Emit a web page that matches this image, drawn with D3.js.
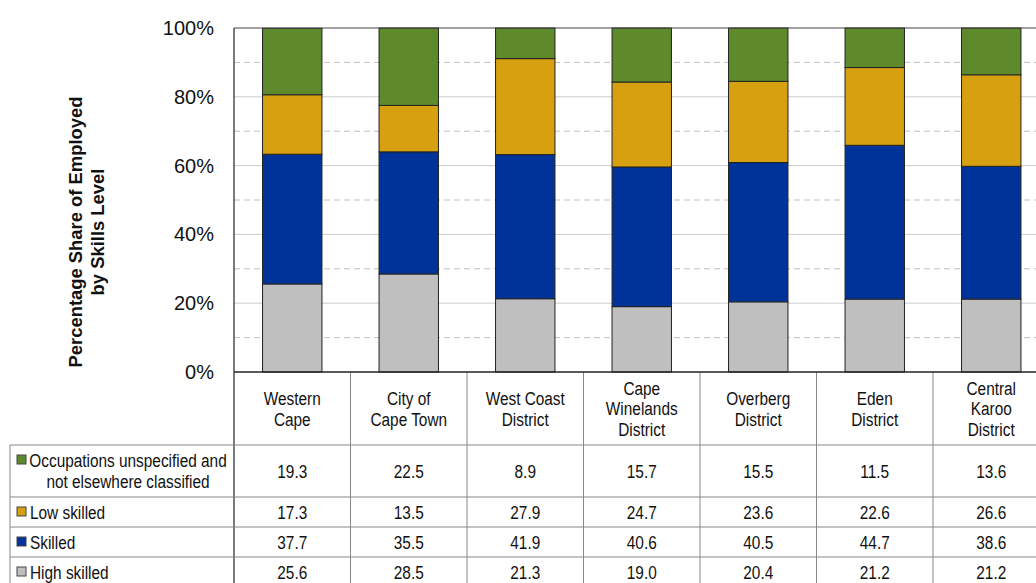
<!DOCTYPE html>
<html><head><meta charset="utf-8">
<script src="https://cdn.jsdelivr.net/npm/d3@7"></script>
<style>
html,body{margin:0;padding:0;background:#fff;overflow:hidden;}
svg{display:block;font-family:"Liberation Sans",Arial,sans-serif;}
</style></head><body>
<svg id="c" width="1100" height="583"></svg>
<script>
const categories = ["Western Cape","City of Cape Town","West Coast District","Cape Winelands District","Overberg District","Eden District","Central Karoo District"];
const categoryLines = [["Western","Cape"],["City of","Cape Town"],["West Coast","District"],["Cape","Winelands","District"],["Overberg","District"],["Eden","District"],["Central","Karoo","District"]];
const seriesNames = ["High skilled","Skilled","Low skilled","Occupations unspecified and not elsewhere classified"];
const highSkilled = [25.6,28.5,21.3,19.0,20.4,21.2,21.2];
const skilled = [37.7,35.5,41.9,40.6,40.5,44.7,38.6];
const lowSkilled = [17.3,13.5,27.9,24.7,23.6,22.6,26.6];
const unspecified = [19.3,22.5,8.9,15.7,15.5,11.5,13.6];
const yTicks = [0,20,40,60,80,100];
const colors = ["#bfbfbf","#003399","#d6a010","#5f8a2b"];

(function(){
const series = [highSkilled, skilled, lowSkilled, unspecified];
const svg = d3.select("#c");
const pLeft = 234, pTop = 28, pBottom = 372, colW = 116.5;
const fs = 19, sx = 0.81;
const x = d3.scaleBand().domain(categories).range([pLeft, pLeft + colW*categories.length]).paddingInner(0).paddingOuter(0);
const y = d3.scaleLinear().domain([0,100]).range([pBottom, pTop]);

function narrowText(px, py, lines, anchor, lh){
  const t = svg.append("text").attr("transform",`translate(${px},${py}) scale(${sx},1)`)
    .attr("text-anchor",anchor).attr("font-size",fs).attr("fill","#111");
  lines.forEach((l,j)=>t.append("tspan").attr("x",0).attr("y",j*lh).text(l));
  return t;
}

// gridlines
const g = svg.append("g");
d3.range(10,100,20).forEach(v=>{
  g.append("line").attr("x1",pLeft).attr("x2",x.range()[1]).attr("y1",y(v)).attr("y2",y(v))
   .attr("stroke","#c0c0c0").attr("stroke-width",1).attr("stroke-dasharray","6,4");
});
yTicks.filter(v=>v>0&&v<100).forEach(v=>{
  g.append("line").attr("x1",pLeft).attr("x2",x.range()[1]).attr("y1",y(v)).attr("y2",y(v))
   .attr("stroke","#cccccc").attr("stroke-width",1);
});

// stacked bars
const rows = categories.map((c,i)=>{const o={cat:c}; series.forEach((s,k)=>o["s"+k]=s[i]); return o;});
const stack = d3.stack().keys(series.map((s,k)=>"s"+k))(rows);
const bw = x.bandwidth()*0.51;
stack.forEach((layer,k)=>{
  svg.append("g").selectAll("rect").data(layer).join("rect")
    .attr("x",d=>x(d.data.cat)+(x.bandwidth()-bw)/2)
    .attr("width",bw)
    .attr("y",d=>y(Math.min(d[1],100)))
    .attr("height",d=>y(d[0])-y(Math.min(d[1],100)))
    .attr("fill",colors[k]).attr("stroke","#222").attr("stroke-width",1);
});

// frame
svg.append("line").attr("x1",pLeft).attr("x2",x.range()[1]).attr("y1",pTop).attr("y2",pTop).attr("stroke","#444").attr("stroke-width",1);
svg.append("line").attr("x1",pLeft).attr("x2",pLeft).attr("y1",pTop).attr("y2",583).attr("stroke","#333").attr("stroke-width",1.3);

// y axis labels
const yAxis = d3.axisLeft(y).tickValues(yTicks).tickFormat(d=>d+"%").tickSize(0).tickPadding(20);
const ya = svg.append("g").attr("transform",`translate(${pLeft},0)`).call(yAxis);
ya.select(".domain").remove();
ya.selectAll("text").attr("font-size",20).attr("fill","#111").attr("font-family","Liberation Sans, Arial, sans-serif");

// y title
const yt = svg.append("text").attr("transform","translate(0,232) rotate(-90)").attr("text-anchor","middle")
  .attr("font-size",18.4).attr("font-weight","bold").attr("fill","#111");
yt.append("tspan").attr("x",0).attr("y",82).text("Percentage Share of Employed");
yt.append("tspan").attr("x",0).attr("y",104).text("by Skills Level");

// table
const tEnd = x.range()[1];
const rowLines = [445,497,527,557];
const rowCenters = [471,512,542,572];
rowLines.forEach(yy=>{
  svg.append("line").attr("x1",10).attr("x2",tEnd).attr("y1",yy).attr("y2",yy).attr("stroke","#888").attr("stroke-width",1);
});
svg.append("line").attr("x1",10).attr("x2",10).attr("y1",445).attr("y2",583).attr("stroke","#888");
categories.forEach((c,i)=>{
  const xx = x(c)+x.bandwidth();
  svg.append("line").attr("x1",xx).attr("x2",xx).attr("y1",pBottom).attr("y2",583).attr("stroke","#888");
});
// bottom axis line
svg.append("line").attr("x1",pLeft).attr("x2",tEnd).attr("y1",pBottom).attr("y2",pBottom).attr("stroke","#222").attr("stroke-width",1.5);

// category headers
categories.forEach((c,i)=>{
  const lines = categoryLines[i];
  const cx = x(c)+x.bandwidth()/2;
  const start = 409 - (lines.length-1)*21/2 + 6.5;
  narrowText(cx, start, lines, "middle", 21);
});

// legend rows (top to bottom: unspecified, low, skilled, high)
const order = [3,2,1,0];
const labelLines = {3:["Occupations unspecified and","not elsewhere classified"],2:["Low skilled"],1:["Skilled"],0:["High skilled"]};
order.forEach((k,r)=>{
  const cy = rowCenters[r];
  const lines = labelLines[k];
  if(lines.length===2){
    svg.append("rect").attr("x",17).attr("y",cy-16).attr("width",9).attr("height",9).attr("fill",colors[k]).attr("stroke","#444").attr("stroke-width",1);
    narrowText(128, cy-4, lines, "middle", 21);
  } else {
    svg.append("rect").attr("x",17).attr("y",cy-5).attr("width",9).attr("height",9).attr("fill",colors[k]).attr("stroke","#444").attr("stroke-width",1);
    narrowText(30, cy+6.5, lines, "start", 21);
  }
  categories.forEach((c,i)=>{
    narrowText(x(c)+x.bandwidth()/2, cy+6.5, [series[k][i].toFixed(1)], "middle", 21);
  });
});
})();
</script></body></html>
